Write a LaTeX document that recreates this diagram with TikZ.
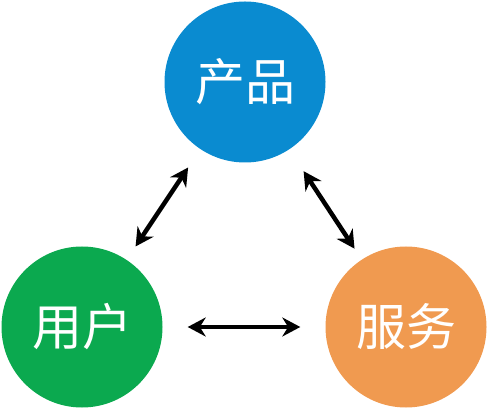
\documentclass[tikz,border=0pt]{standalone}
\usepackage{fontspec}
\newfontfamily\cjk{Noto Sans CJK SC}
\usetikzlibrary{arrows.meta}
\definecolor{productblue}{HTML}{0A8BD0}
\definecolor{usergreen}{HTML}{0BA94F}
\definecolor{serviceorange}{HTML}{F09A50}
\begin{document}
\begin{tikzpicture}[
    x=1pt, y=1pt,
    every node/.style={circle,minimum size=161pt,inner sep=0pt,text=white,
        font=\cjk\fontsize{50}{50}\selectfont},
    link/.style={{Stealth[length=18pt,width=19pt]}-{Stealth[length=18pt,width=19pt]},line width=4.5pt}
]
\useasboundingbox (0,0) rectangle (489,409);
\node[fill=productblue] (product) at (245,327) {产品};
\node[fill=usergreen] (user) at (82,82) {用户};
\node[fill=serviceorange] (service) at (406,82) {服务};
\draw[link,shorten <=16pt,shorten >=22pt] (user) -- (product);
\draw[link,shorten <=26pt,shorten >=13pt] (product) -- (service);
\draw[link,shorten <=25pt,shorten >=25pt] (user) -- (service);
\end{tikzpicture}
\end{document}
